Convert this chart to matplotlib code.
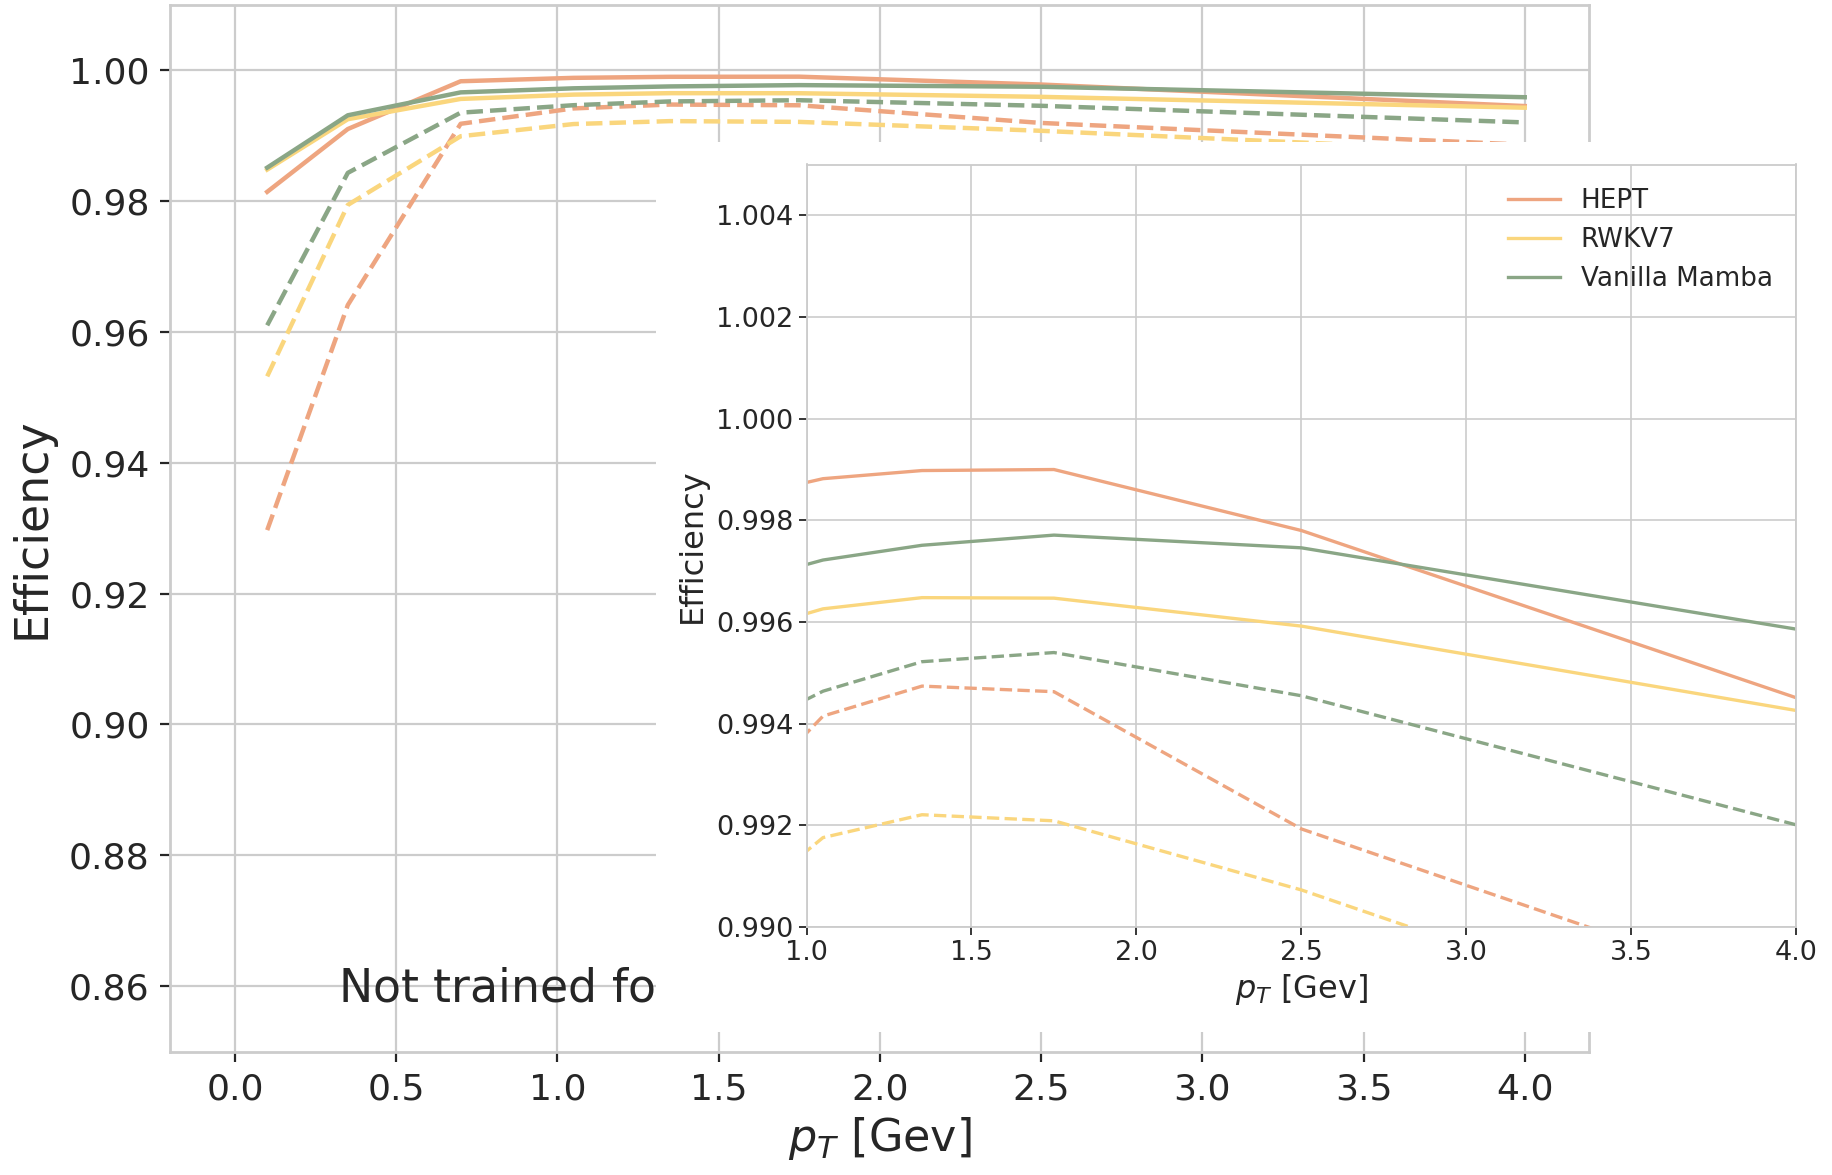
# Import matplotlib for plotting
import matplotlib.pyplot as plt
from matplotlib.patches import Rectangle

# Transverse momentum bins [GeV]
pt = [0.1, 0.35, 0.7, 1.05, 1.35, 1.75, 2.5, 4.0]

# Model names
models = ['HEPT', 'RWKV7', 'Vanilla Mamba']

# Efficiency, solid lines
hept_solid = [0.9814, 0.9910, 0.9983, 0.99882, 0.99898, 0.99900, 0.99780, 0.99451]
rwkv_solid = [0.9848, 0.9925, 0.9956, 0.99626, 0.99648, 0.99647, 0.99592, 0.99426]
mamba_solid = [0.9851, 0.9931, 0.9966, 0.99722, 0.99751, 0.99771, 0.99746, 0.99586]

# Efficiency, dashed lines
hept_dash = [0.9297, 0.9641, 0.9918, 0.99415, 0.99474, 0.99463, 0.99193, 0.9886]
rwkv_dash = [0.9532, 0.9794, 0.9899, 0.99176, 0.99221, 0.99209, 0.99073, 0.9874]
mamba_dash = [0.9610, 0.9843, 0.9935, 0.99464, 0.99522, 0.99540, 0.99455, 0.99201]

colors = ['#eea580', '#fad67d', '#8aa686']
solid = [hept_solid, rwkv_solid, mamba_solid]
dashed = [hept_dash, rwkv_dash, mamba_dash]

grid_color = '#cccccc'
text_color = '#262626'

plt.rcParams['font.family'] = 'DejaVu Sans'
plt.rcParams['text.color'] = text_color
plt.rcParams['axes.labelcolor'] = text_color
plt.rcParams['xtick.color'] = text_color
plt.rcParams['ytick.color'] = text_color

fig = plt.figure(figsize=(18.33, 11.75), dpi=100)

# Main axes
ax = fig.add_axes([0.093, 0.105, 0.774, 0.891])
for i in range(3):
    ax.plot(pt, solid[i], color=colors[i], lw=3.2)
    ax.plot(pt, dashed[i], color=colors[i], lw=3.2, ls='--')
ax.set_xlim(-0.2, 4.2)
ax.set_ylim(0.85, 1.01)
ax.set_xticks([0.0, 0.5, 1.0, 1.5, 2.0, 2.5, 3.0, 3.5, 4.0])
ax.set_yticks([0.86, 0.88, 0.90, 0.92, 0.94, 0.96, 0.98, 1.00])
ax.grid(True, color=grid_color, lw=1.6)
ax.set_axisbelow(True)
for s in ax.spines.values():
    s.set_color(grid_color)
    s.set_linewidth(2.0)
ax.tick_params(labelsize=26, length=7, width=1.6, pad=8)
ax.set_xlabel('$p_T$ [Gev]', fontsize=32, labelpad=6)
ax.set_ylabel('Efficiency', fontsize=33, labelpad=10)
ax.text(0.32, 0.8595, 'Not trained for $p_T$ < 1 GeV', fontsize=33, va='center')

# White block behind the zoomed panel
fig.patches.append(Rectangle((0.358, 0.122), 0.642, 0.757, transform=fig.transFigure,
                             facecolor='white', edgecolor='none', zorder=1))

# Zoomed panel
ins = fig.add_axes([0.440, 0.211, 0.540, 0.649])
ins.set_zorder(2)
for i in range(3):
    ins.plot(pt, solid[i], color=colors[i], lw=2.4, label=models[i])
    ins.plot(pt, dashed[i], color=colors[i], lw=2.4, ls='--')
ins.set_xlim(1.0, 4.0)
ins.set_ylim(0.990, 1.005)
ins.set_yticks([0.990, 0.992, 0.994, 0.996, 0.998, 1.000, 1.002, 1.004])
ins.set_yticklabels(['%.3f' % v for v in ins.get_yticks()])
ins.grid(True, color=grid_color, lw=1.2)
ins.set_axisbelow(True)
for s in ins.spines.values():
    s.set_color(grid_color)
    s.set_linewidth(1.3)
ins.tick_params(labelsize=19.5, length=6, width=1.3)
ins.set_xlabel('$p_T$ [Gev]', fontsize=23)
ins.set_ylabel('Efficiency', fontsize=23, labelpad=6)
ins.legend(loc='upper right', frameon=False, fontsize=18.8)

plt.savefig('out.png', dpi=100)
